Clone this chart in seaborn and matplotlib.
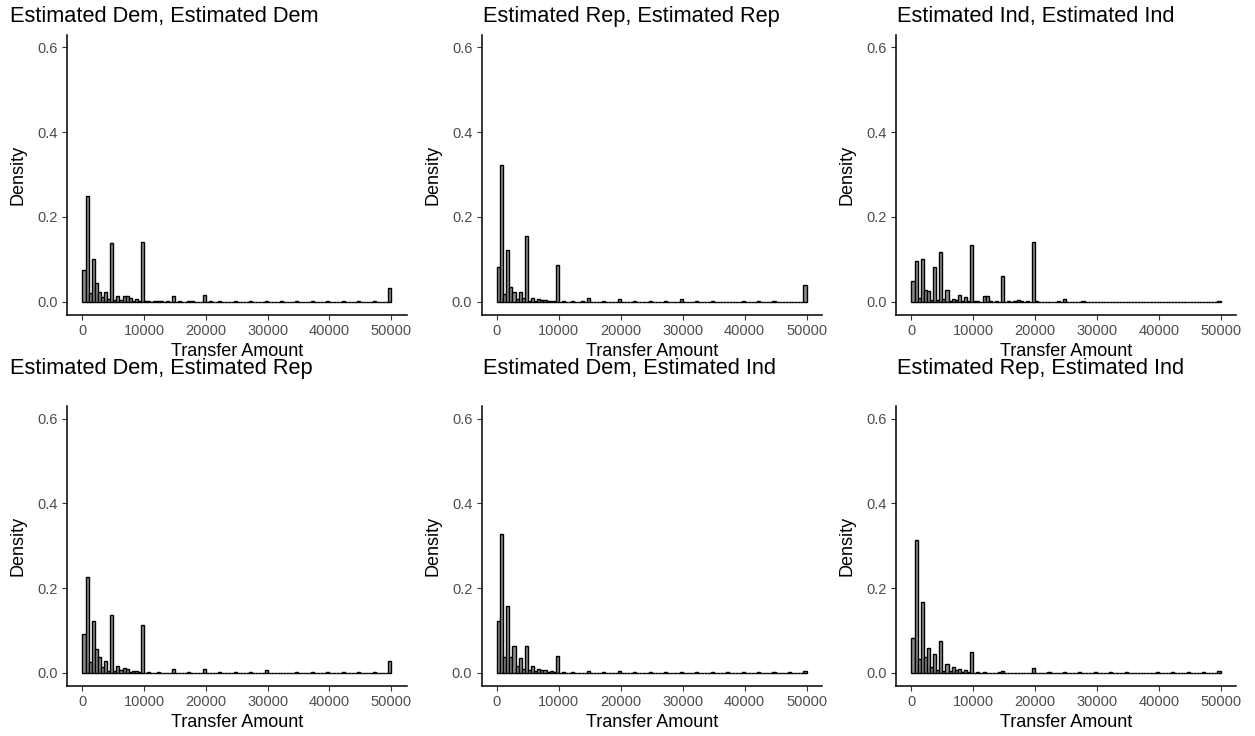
import numpy as np
import pandas as pd
import matplotlib
matplotlib.use("Agg")
import matplotlib.pyplot as plt
import seaborn as sns

# ---------------- data (bin upper edges in $ and share of transfers) ----------------
titles = [
    "Estimated Dem, Estimated Dem",
    "Estimated Rep, Estimated Rep",
    "Estimated Ind, Estimated Ind",
    "Estimated Dem, Estimated Rep",
    "Estimated Dem, Estimated Ind",
    "Estimated Rep, Estimated Ind",
]

amounts_dem_dem = [500, 1000, 1500, 2000, 2500, 3000, 3500, 4000, 4500, 5000,
                   5500, 6000, 6500, 7000, 7500, 8000, 8500, 9000, 9500, 10000,
                   10500, 11000, 12000, 12500, 13000, 14000, 15000, 16000, 17500, 18000,
                   20000, 21000, 22500, 25000, 27500, 30000, 32500, 35000, 37500, 40000,
                   42500, 45000, 47500, 50000]
props_dem_dem = [0.0745, 0.249, 0.021, 0.102, 0.044, 0.024, 0.012, 0.024, 0.007, 0.138,
                 0.005, 0.014, 0.004, 0.0125, 0.014, 0.009, 0.003, 0.006, 0.002, 0.140,
                 0.002, 0.001, 0.002, 0.001, 0.001, 0.001, 0.0125, 0.001, 0.001, 0.001,
                 0.016, 0.001, 0.001, 0.002, 0.001, 0.003, 0.001, 0.001, 0.001, 0.001,
                 0.001, 0.002, 0.001, 0.0315]

amounts_rep_rep = [500, 1000, 1500, 2000, 2500, 3000, 3500, 4000, 4500, 5000,
                   5500, 6000, 6500, 7000, 7500, 8000, 8500, 9000, 9500, 10000,
                   11000, 12500, 14000, 15000, 17500, 20000, 22500, 25000, 27500, 30000,
                   32500, 35000, 40000, 42500, 45000, 50000]
props_rep_rep = [0.082, 0.322, 0.019, 0.121, 0.035, 0.023, 0.006, 0.023, 0.009, 0.155,
                 0.003, 0.010, 0.003, 0.007, 0.005, 0.004, 0.002, 0.001, 0.001, 0.086,
                 0.001, 0.002, 0.001, 0.009, 0.001, 0.006, 0.001, 0.002, 0.001, 0.006,
                 0.001, 0.002, 0.001, 0.001, 0.002, 0.0385]

amounts_ind_ind = [500, 1000, 1500, 2000, 2500, 3000, 3500, 4000, 4500, 5000,
                   5500, 6000, 6500, 7000, 7500, 8000, 8500, 9000, 9500, 10000,
                   10500, 11000, 12000, 12500, 13000, 14000, 15000, 16000, 17000, 17500,
                   18000, 19000, 20000, 20500, 24000, 25000, 28000, 50000]
props_ind_ind = [0.049, 0.097, 0.010, 0.101, 0.027, 0.025, 0.005, 0.082, 0.005, 0.118,
                 0.007, 0.027, 0.003, 0.007, 0.004, 0.015, 0.003, 0.011, 0.002, 0.133,
                 0.003, 0.002, 0.0125, 0.0125, 0.002, 0.001, 0.060, 0.002, 0.002, 0.004,
                 0.003, 0.001, 0.140, 0.001, 0.002, 0.007, 0.002, 0.003]

amounts_dem_rep = [500, 1000, 1500, 2000, 2500, 3000, 3500, 4000, 4500, 5000,
                   5500, 6000, 6500, 7000, 7500, 8000, 8500, 9000, 9500, 10000,
                   11000, 12500, 15000, 17500, 20000, 22500, 25000, 27500, 30000, 35000,
                   37500, 40000, 42500, 45000, 47500, 50000]
props_dem_rep = [0.091, 0.227, 0.026, 0.122, 0.057, 0.037, 0.014, 0.027, 0.005, 0.137,
                 0.004, 0.0165, 0.006, 0.0125, 0.008, 0.003, 0.004, 0.004, 0.001, 0.113,
                 0.001, 0.001, 0.010, 0.001, 0.010, 0.001, 0.001, 0.001, 0.006, 0.001,
                 0.001, 0.001, 0.001, 0.001, 0.001, 0.028]

amounts_dem_ind = [500, 1000, 1500, 2000, 2500, 3000, 3500, 4000, 4500, 5000,
                   5500, 6000, 6500, 7000, 7500, 8000, 8500, 9000, 9500, 10000,
                   11000, 12500, 15000, 17500, 20000, 22500, 25000, 27500, 30000, 32500,
                   35000, 37500, 40000, 42500, 45000, 47500, 50000]
props_dem_ind = [0.122, 0.328, 0.038, 0.157, 0.038, 0.064, 0.016, 0.036, 0.008, 0.064,
                 0.006, 0.015, 0.004, 0.0095, 0.007, 0.007, 0.003, 0.005, 0.001, 0.040,
                 0.001, 0.001, 0.004, 0.001, 0.004, 0.001, 0.001, 0.001, 0.002, 0.001,
                 0.001, 0.001, 0.001, 0.001, 0.002, 0.001, 0.004]

amounts_rep_ind = [500, 1000, 1500, 2000, 2500, 3000, 3500, 4000, 4500, 5000,
                   5500, 6000, 6500, 7000, 7500, 8000, 8500, 9000, 9500, 10000,
                   11000, 12000, 14500, 15000, 20000, 22500, 25000, 27500, 30000, 32500,
                   35000, 40000, 42500, 45000, 47500, 50000]
props_rep_ind = [0.081, 0.314, 0.032, 0.168, 0.038, 0.059, 0.014, 0.045, 0.006, 0.076,
                 0.004, 0.020, 0.004, 0.013, 0.006, 0.0095, 0.003, 0.007, 0.001, 0.048,
                 0.001, 0.002, 0.001, 0.004, 0.011, 0.001, 0.001, 0.001, 0.001, 0.001,
                 0.001, 0.001, 0.001, 0.001, 0.001, 0.004]

panel_amounts = [amounts_dem_dem, amounts_rep_rep, amounts_ind_ind,
                 amounts_dem_rep, amounts_dem_ind, amounts_rep_ind]
panel_props = [props_dem_dem, props_rep_rep, props_ind_ind,
               props_dem_rep, props_dem_ind, props_rep_ind]

x_ticks = [0, 10000, 20000, 30000, 40000, 50000]
y_ticks = [0.0, 0.2, 0.4, 0.6]
y_tick_labels = ["0.0", "0.2", "0.4", "0.6"]

# ---------------- styling ----------------
sns.set_theme(style="white")
plt.rcParams['font.family'] = ['Liberation Sans', 'DejaVu Sans']

W, H = 1255, 736
fig = plt.figure(figsize=(W / 100, H / 100), dpi=100)

# right-closed bins of width 500 from 0 to 50000
edges = [0.0] + [float(e) + 0.5 for e in range(500, 50001, 500)]

col_px = [(67, 406.5), (481.5, 822), (896, 1236)]
row_px = [(34.5, 314.5), (406, 685.5)]
title_x_px = [10, 483, 897]
title_base_px = [22, 374]

for i in range(6):
    r, c = divmod(i, 3)
    l, rgt = col_px[c]
    t, b = row_px[r]
    ax = fig.add_axes([l / W, 1 - b / H, (rgt - l) / W, (b - t) / H])
    df = pd.DataFrame({"amount": np.asarray(panel_amounts[i], dtype=float),
                       "prop": np.asarray(panel_props[i], dtype=float)})
    sns.histplot(data=df, x="amount", weights="prop", bins=edges,
                 stat="count", color="#8C8C8C", edgecolor="black",
                 linewidth=1.0, alpha=1.0, ax=ax)
    ax.set_xlim(-2500, 52500)
    ax.set_ylim(-0.03, 0.63)
    ax.set_xticks(x_ticks)
    ax.set_xticklabels([str(v) for v in x_ticks])
    ax.set_yticks(y_ticks)
    ax.set_yticklabels(y_tick_labels)
    for s in ["top", "right"]:
        ax.spines[s].set_visible(False)
    for s in ["left", "bottom"]:
        ax.spines[s].set_color("black")
        ax.spines[s].set_linewidth(1.1)
    ax.tick_params(axis="both", direction="out", length=3.3, width=0.8,
                   color="#333333", labelcolor="#4D4D4D", labelsize=10.5, pad=3.3,
                   bottom=True, left=True)
    ax.set_xlabel("Transfer Amount", fontsize=13, color="black", labelpad=3.5)
    ax.set_ylabel("Density", fontsize=13, color="black", labelpad=7.5)
    ax.grid(False)
    fig.text(title_x_px[c] / W, 1 - title_base_px[r] / H, titles[i],
             fontsize=15.7, color="black", ha="left", va="baseline")

fig.savefig("out.png", dpi=100)
